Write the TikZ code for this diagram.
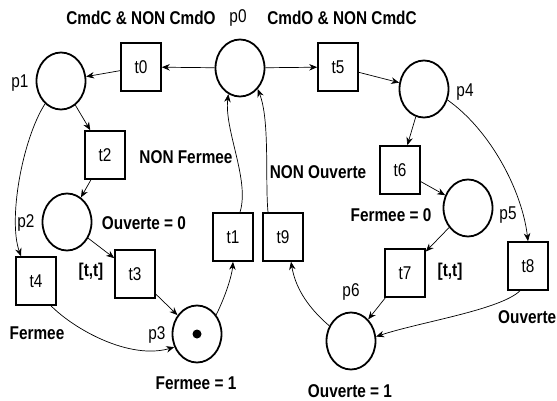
\documentclass[tikz,border=0pt]{standalone}
\usepackage{fontspec}
\setmainfont{Liberation Sans}[FakeStretch=0.83]
\usetikzlibrary{arrows.meta,shapes.geometric}
\begin{document}
\begin{tikzpicture}[x=1pt,y=-1pt,
  place/.style={draw,ellipse,line width=1.8pt,minimum width=49pt,minimum height=57pt,inner sep=0pt},
  trans/.style={draw,rectangle,line width=1.6pt,minimum width=40pt,minimum height=48pt,inner sep=0pt,font=\fontsize{18.5}{18.5}\selectfont},
  arc/.style={line width=0.7pt,-{Stealth[length=8pt,width=6.5pt]}},
  lbl/.style={font=\fontsize{18.5}{18.5}\selectfont\bfseries,inner sep=0pt},
  plbl/.style={font=\fontsize{18.5}{18.5}\selectfont,inner sep=0pt}]
\useasboundingbox (0,0) rectangle (557,401);
% places
\node[place] (p0) at (240,68) {};
\node[place] (p1) at (61,81) {};
\node[place] (p2) at (67,222) {};
\node[place] (p3) at (197,334) {};
\node[place] (p4) at (424,89) {};
\node[place] (p5) at (468,208) {};
\node[place] (p6) at (351,341) {};
\fill (p3.center) circle (4.5);
% transitions
\node[trans] (t0) at (141,67) {t0};
\node[trans] (t5) at (338,67) {t5};
\node[trans] (t2) at (105,155) {t2};
\node[trans] (t6) at (400,170) {t6};
\node[trans] (t1) at (233,237) {t1};
\node[trans] (t9) at (283,237) {t9};
\node[trans] (t4) at (36,281) {t4};
\node[trans] (t3) at (135,274) {t3};
\node[trans] (t7) at (405,273) {t7};
\node[trans] (t8) at (528,266) {t8};
% place labels
\node[plbl] (lp0) at (238,18) {p0};
\node[plbl] (lp1) at (20,83) {p1};
\node[plbl] (lp2) at (26,223) {p2};
\node[plbl] (lp3) at (157,335) {p3};
\node[plbl] (lp4) at (465,92) {p4};
\node[plbl] (lp5) at (508,215) {p5};
\node[plbl] (lp6) at (351,292) {p6};
% annotations
\node[lbl] (a1) at (141,18) {CmdC \& NON CmdO};
\node[lbl] (a2) at (342,18) {CmdO \& NON CmdC};
\node[lbl] (a3) at (186,157) {NON Fermee};
\node[lbl] (a4) at (318,172) {NON Ouverte};
\node[lbl] (a5) at (144,223) {Ouverte = 0};
\node[lbl] (a6) at (91,272) {[t,t]};
\node[lbl] (a7) at (37,333) {Fermee};
\node[lbl] (a8) at (196,383) {Fermee = 1};
\node[lbl] (a9) at (391,215) {Fermee = 0};
\node[lbl] (a10) at (450,272) {[t,t]};
\node[lbl,anchor=west] (a11) at (498,317) {Ouverte};
\node[lbl] (a12) at (350,391) {Ouverte = 1};
% straight arcs
\draw[arc] (p0) -- (t0);
\draw[arc] (t0) -- (p1);
\draw[arc] (p0) -- (t5);
\draw[arc] (t5) -- (p4);
\draw[arc] (p1) -- (t2);
\draw[arc] (t2) -- (p2);
\draw[arc] (p2) -- (t3);
\draw[arc] (t3) -- (p3);
\draw[arc] (p4) -- (t6);
\draw[arc] (t6) -- (p5);
\draw[arc] (p5) -- (t7);
\draw[arc] (t7) -- (p6);
% curved arcs
\draw[arc] (p1.-125) .. controls (22,140) and (8,220) .. ([xshift=-15pt]t4.north);
\draw[arc] ([xshift=15pt]t4.south) .. controls (75,330) and (130,360) .. (p3.210);
\draw[arc] (p3.45) .. controls (226,295) and (232,275) .. (t1.south);
\draw[arc] ([xshift=7pt]t1.north) .. controls (250,180) and (224,130) .. (p0.-114);
\draw[arc] ([xshift=-15pt]t9.north) .. controls (265,180) and (270,120) .. (p0.-50);
\draw[arc] (p4.-25) .. controls (490,130) and (522,190) .. (t8.north);
\draw[arc] ([xshift=-8pt]t8.south) .. controls (500,310) and (420,322) .. (p6.10);
\draw[arc] (p6.145) .. controls (305,305) and (295,285) .. ([xshift=8pt]t9.south);
\end{tikzpicture}
\end{document}
